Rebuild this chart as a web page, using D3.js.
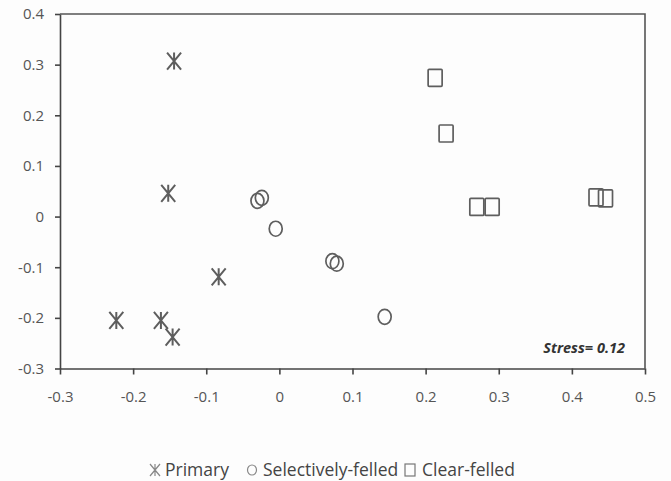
<!DOCTYPE html>
<html>
<head>
<meta charset="utf-8">
<script src="https://cdn.jsdelivr.net/npm/d3@7"></script>
<style>
  body { margin: 0; background: #fdfdfd; }
  svg { display: block; }
  .axis text { font-family: "Open Sans", sans-serif; font-size: 15px; fill: #555; }
  .axis path, .axis line { stroke: #444; stroke-width: 1.6; }
</style>
</head>
<body>
<div id="chart"></div>
<script>
// NMDS ordination points
var primaryX = [-0.144, -0.152, -0.083, -0.223, -0.162, -0.146];
var primaryY = [0.307, 0.046, -0.119, -0.205, -0.205, -0.238];

var selectiveX = [-0.030, -0.024, -0.005, 0.0725, 0.0785, 0.144];
var selectiveY = [0.031, 0.037, -0.024, -0.088, -0.093, -0.198];

var clearX = [0.213, 0.228, 0.270, 0.291, 0.433, 0.446];
var clearY = [0.274, 0.164, 0.019, 0.019, 0.038, 0.036];

var xTicks = [-0.3, -0.2, -0.1, 0, 0.1, 0.2, 0.3, 0.4, 0.5];
var yTicks = [-0.3, -0.2, -0.1, 0, 0.1, 0.2, 0.3, 0.4];
var legendLabels = ["Primary", "Selectively-felled", "Clear-felled"];
var stressLabel = "Stress= 0.12";

var W = 671, H = 481;
var mLeft = 60, mRight = 645, mTop = 14, mBottom = 368.5;

var svg = d3.select("#chart").append("svg")
  .attr("width", W)
  .attr("height", H);

var x = d3.scaleLinear().domain([-0.3, 0.5]).range([mLeft, mRight]);
var y = d3.scaleLinear().domain([-0.3, 0.4]).range([mBottom, mTop]);

var fmt = function(d) {
  if (Math.abs(d) < 1e-9) return "0";
  return d3.format(".1f")(d).replace("\u2212", "-");
};

// frame (top + right)
svg.append("path")
  .attr("d", "M" + mLeft + "," + mTop + "H" + mRight + "V" + mBottom)
  .attr("fill", "none")
  .attr("stroke", "#555")
  .attr("stroke-width", 1.6);

svg.append("g")
  .attr("class", "axis")
  .attr("transform", "translate(0," + mBottom + ")")
  .call(d3.axisBottom(x).tickValues(xTicks).tickFormat(fmt).tickSizeInner(6).tickSizeOuter(0).tickPadding(17));

svg.append("g")
  .attr("class", "axis")
  .attr("transform", "translate(" + mLeft + ",0)")
  .call(d3.axisLeft(y).tickValues(yTicks).tickFormat(fmt).tickSizeInner(5).tickSizeOuter(0).tickPadding(11));

// marker shapes
function starPath(w, h) {
  var a = w / 2, b = h / 2;
  return "M0," + (-b) + "V" + b +
    "M" + (-a) + "," + (-b) + "L" + a + "," + b +
    "M" + a + "," + (-b) + "L" + (-a) + "," + b;
}

var markColor = "#5e5e5e";

svg.append("g").selectAll("path")
  .data(d3.zip(primaryX, primaryY))
  .join("path")
  .attr("transform", function(d) { return "translate(" + x(d[0]) + "," + y(d[1]) + ")"; })
  .attr("d", starPath(14, 17))
  .attr("fill", "none")
  .attr("stroke", markColor)
  .attr("stroke-width", 2);

svg.append("g").selectAll("ellipse")
  .data(d3.zip(selectiveX, selectiveY))
  .join("ellipse")
  .attr("cx", function(d) { return x(d[0]); })
  .attr("cy", function(d) { return y(d[1]); })
  .attr("rx", 6.5)
  .attr("ry", 7.5)
  .attr("fill", "none")
  .attr("stroke", markColor)
  .attr("stroke-width", 1.7);

svg.append("g").selectAll("rect")
  .data(d3.zip(clearX, clearY))
  .join("rect")
  .attr("x", function(d) { return x(d[0]) - 7; })
  .attr("y", function(d) { return y(d[1]) - 8.5; })
  .attr("width", 14)
  .attr("height", 17)
  .attr("rx", 1)
  .attr("fill", "none")
  .attr("stroke", markColor)
  .attr("stroke-width", 1.7);

// stress annotation
svg.append("text")
  .attr("x", 625)
  .attr("y", 353)
  .attr("text-anchor", "end")
  .style("font-family", "'Open Sans', sans-serif")
  .style("font-size", "14.5px")
  .style("font-style", "italic")
  .style("font-weight", "bold")
  .style("fill", "#333")
  .text(stressLabel);

// legend
var legY = 470;
var legItems = [
  { label: legendLabels[0], mx: 155, tx: 165 },
  { label: legendLabels[1], mx: 252, tx: 263 },
  { label: legendLabels[2], mx: 410, tx: 422 }
];

var leg = svg.append("g");
leg.append("path")
  .attr("transform", "translate(" + legItems[0].mx + "," + legY + ")")
  .attr("d", starPath(10, 12))
  .attr("fill", "none")
  .attr("stroke", "#888")
  .attr("stroke-width", 1.2);
leg.append("ellipse")
  .attr("cx", legItems[1].mx).attr("cy", legY)
  .attr("rx", 4.5).attr("ry", 5)
  .attr("fill", "none")
  .attr("stroke", "#888")
  .attr("stroke-width", 1.2);
leg.append("rect")
  .attr("x", legItems[2].mx - 5).attr("y", legY - 6)
  .attr("width", 10).attr("height", 12)
  .attr("fill", "none")
  .attr("stroke", "#777")
  .attr("stroke-width", 1.2);

leg.selectAll("text")
  .data(legItems)
  .join("text")
  .attr("x", function(d) { return d.tx; })
  .attr("y", legY + 6)
  .style("font-family", "'Open Sans', sans-serif")
  .style("font-size", "17.5px")
  .style("fill", "#444")
  .text(function(d) { return d.label; });
</script>
</body>
</html>
